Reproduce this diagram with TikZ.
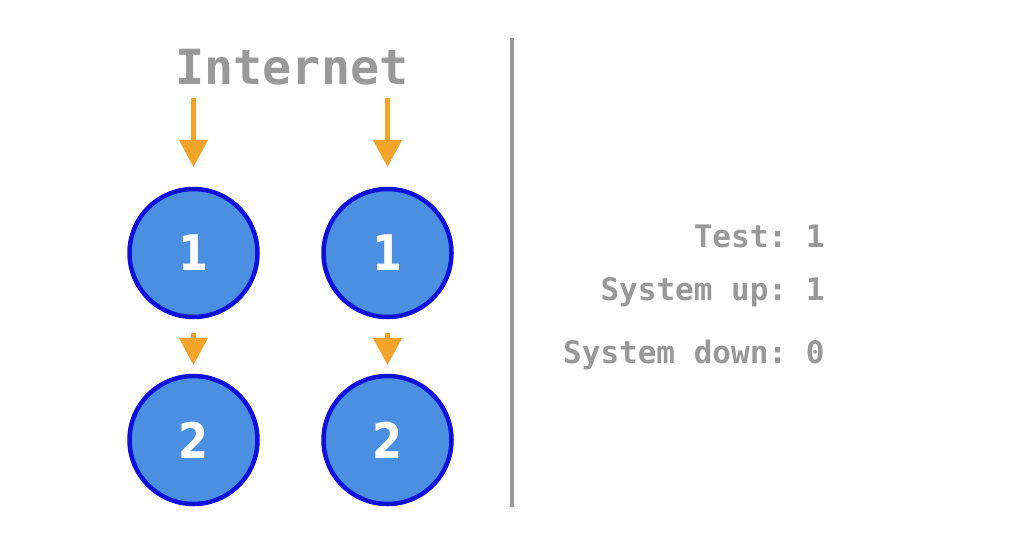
\documentclass[tikz,border=0pt]{standalone}
\usepackage{fontspec}
\setmonofont{DejaVu Sans Mono}
\newfontfamily\numfont{DejaVu Sans}[FakeStretch=0.88]
\usetikzlibrary{arrows.meta}
\definecolor{txtgray}{HTML}{999999}
\definecolor{nodefill}{HTML}{4A8FE2}
\definecolor{nodeedge}{HTML}{1010DD}
\definecolor{arrorange}{HTML}{F2A42A}
\begin{document}
\begin{tikzpicture}[x=1pt,y=-1pt,
  srv/.style={circle,draw=nodeedge,fill=nodefill,line width=4.5pt,minimum size=128pt,inner sep=0pt,
    font=\numfont\bfseries\fontsize{49}{49}\selectfont,text=white},
  flow/.style={draw=arrorange,line width=4.5pt,-{Triangle[width=28pt,length=27pt]}},
  stat/.style={anchor=base east,font=\ttfamily\bfseries\fontsize{31}{31}\selectfont,text=txtgray}]
\useasboundingbox (0,0) rectangle (1024,559);
\node[font=\ttfamily\bfseries\fontsize{48.4}{48.4}\selectfont,text=txtgray,anchor=base] (inet) at (292,85) {Internet};
\node[srv] (a1) at (193.5,253) {1};
\node[srv] (b1) at (387.5,253) {1};
\node[srv] (a2) at (193.5,440) {2};
\node[srv] (b2) at (387.5,440) {2};
\coordinate (ta) at (193.5,98);
\coordinate (tb) at (387.5,98);
\coordinate (ha) at (193.5,167);
\coordinate (hb) at (387.5,167);
\coordinate (ma) at (193.5,333);
\coordinate (mb) at (387.5,333);
\coordinate (na) at (193.5,365);
\coordinate (nb) at (387.5,365);
\draw[flow] (ta) -- (ha);
\draw[flow] (tb) -- (hb);
\draw[flow] (ma) -- (na);
\draw[flow] (mb) -- (nb);
\coordinate (vt) at (512,38);
\coordinate (vb) at (512,507);
\draw[txtgray,line width=4.5pt] (vt) -- (vb);
\node[stat] (s1) at (828,247) {Test: 1};
\node[stat] (s2) at (828,300) {System up: 1};
\node[stat] (s3) at (828,363) {System down: 0};
\end{tikzpicture}
\end{document}
